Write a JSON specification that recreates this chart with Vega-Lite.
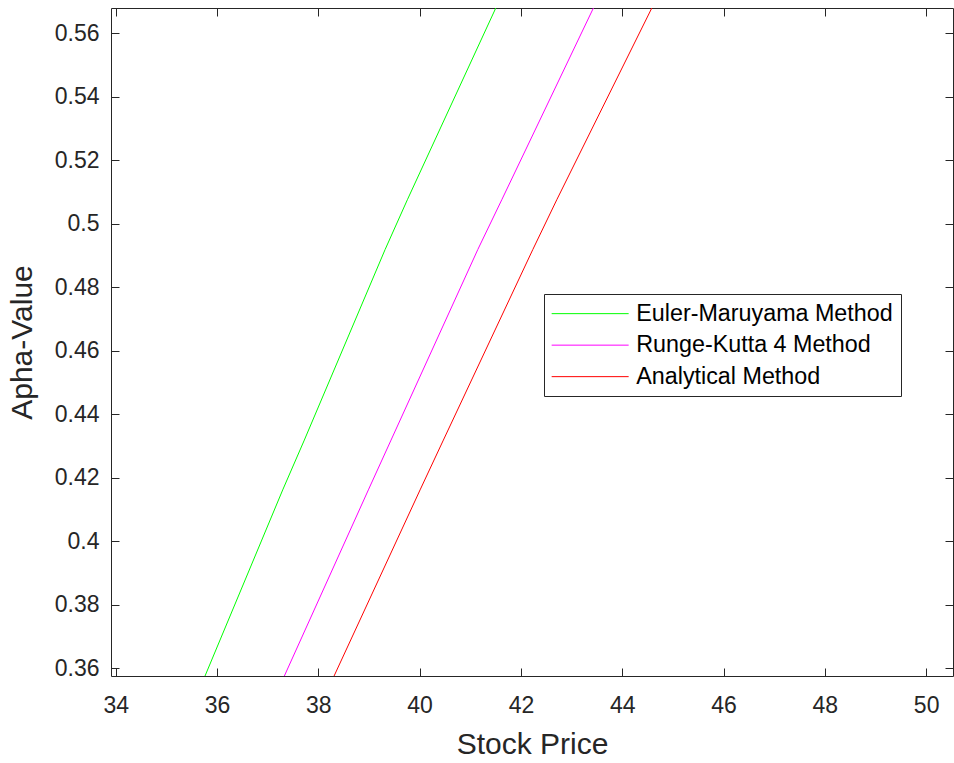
{
  "$schema": "https://vega.github.io/schema/vega-lite/v6.json",
  "autosize": "none",
  "width": 842,
  "height": 668,
  "padding": {"left": 111, "top": 8, "right": 1, "bottom": 87},
  "background": "white",
  "config": {
    "view": {"stroke": null},
    "font": "Liberation Sans",
    "axis": {
      "grid": false,
      "domainColor": "#262626",
      "domainWidth": 1,
      "tickColor": "#262626",
      "tickWidth": 1,
      "tickSize": -8,
      "labelColor": "#262626",
      "labelFont": "Liberation Sans",
      "labelFontSize": 23,
      "titleColor": "#262626",
      "titleFont": "Liberation Sans",
      "titleFontSize": 30,
      "titleFontWeight": "normal"
    }
  },
  "data": {
    "values": [
      {"method": "Euler-Maruyama Method", "price": 35.763, "alpha": 0.35748},
      {"method": "Euler-Maruyama Method", "price": 37.297, "alpha": 0.4161},
      {"method": "Euler-Maruyama Method", "price": 37.724, "alpha": 0.4318},
      {"method": "Euler-Maruyama Method", "price": 39.318, "alpha": 0.4918},
      {"method": "Euler-Maruyama Method", "price": 39.758, "alpha": 0.5075},
      {"method": "Euler-Maruyama Method", "price": 41.504, "alpha": 0.5679},
      {"method": "Runge-Kutta 4 Method", "price": 37.329, "alpha": 0.35748},
      {"method": "Runge-Kutta 4 Method", "price": 38.988, "alpha": 0.4161},
      {"method": "Runge-Kutta 4 Method", "price": 39.436, "alpha": 0.4318},
      {"method": "Runge-Kutta 4 Method", "price": 41.148, "alpha": 0.4918},
      {"method": "Runge-Kutta 4 Method", "price": 41.622, "alpha": 0.5075},
      {"method": "Runge-Kutta 4 Method", "price": 43.431, "alpha": 0.5679},
      {"method": "Analytical Method", "price": 38.311, "alpha": 0.35748},
      {"method": "Analytical Method", "price": 40.009, "alpha": 0.4161},
      {"method": "Analytical Method", "price": 40.469, "alpha": 0.4318},
      {"method": "Analytical Method", "price": 42.234, "alpha": 0.4918},
      {"method": "Analytical Method", "price": 42.708, "alpha": 0.5075},
      {"method": "Analytical Method", "price": 44.584, "alpha": 0.5679}
    ]
  },
  "layer": [
    {
      "mark": {"type": "line", "strokeWidth": 1, "clip": true},
      "encoding": {
        "x": {
          "field": "price", "type": "quantitative",
          "scale": {"domain": [33.907, 50.53], "nice": false, "zero": false},
          "axis": {"orient": "bottom", "title": "Stock Price", "values": [34, 36, 38, 40, 42, 44, 46, 48, 50], "format": "d", "labelPadding": 26, "titlePadding": 12}
        },
        "y": {
          "field": "alpha", "type": "quantitative",
          "scale": {"domain": [0.35748, 0.5679], "nice": false, "zero": false},
          "axis": {"orient": "left", "title": "Apha-Value", "values": [0.36, 0.38, 0.4, 0.42, 0.44, 0.46, 0.48, 0.5, 0.52, 0.54, 0.56], "format": ".2~f", "labelPadding": 20, "titlePadding": 17}
        },
        "color": {
          "field": "method", "type": "nominal",
          "scale": {"domain": ["Euler-Maruyama Method", "Runge-Kutta 4 Method", "Analytical Method"], "range": ["#00ff00", "#ff00ff", "#ff0000"]},
          "legend": {
            "title": null,
            "orient": "none",
            "legendX": 433,
            "legendY": 286,
            "padding": 8,
            "strokeColor": "#262626",
            "fillColor": "white",
            "symbolType": "M-3,0H16.25",
            "symbolSize": 64,
            "symbolStrokeWidth": 1,
            "symbolOpacity": 1,
            "labelOffset": 61,
            "labelFont": "Liberation Sans",
            "labelFontSize": 23.3,
            "labelColor": "#000000",
            "rowPadding": 7.5,
            "labelLimit": 400
          }
        }
      }
    },
    {
      "mark": {"type": "point", "opacity": 0},
      "encoding": {
        "x": {
          "field": "price", "type": "quantitative",
          "scale": {"domain": [33.907, 50.53], "nice": false, "zero": false},
          "axis": {"orient": "top", "title": null, "labels": false, "values": [34, 36, 38, 40, 42, 44, 46, 48, 50]}
        },
        "y": {
          "field": "alpha", "type": "quantitative",
          "scale": {"domain": [0.35748, 0.5679], "nice": false, "zero": false},
          "axis": {"orient": "right", "title": null, "labels": false, "values": [0.36, 0.38, 0.4, 0.42, 0.44, 0.46, 0.48, 0.5, 0.52, 0.54, 0.56]}
        }
      }
    }
  ],
  "resolve": {"axis": {"x": "independent", "y": "independent"}}
}
